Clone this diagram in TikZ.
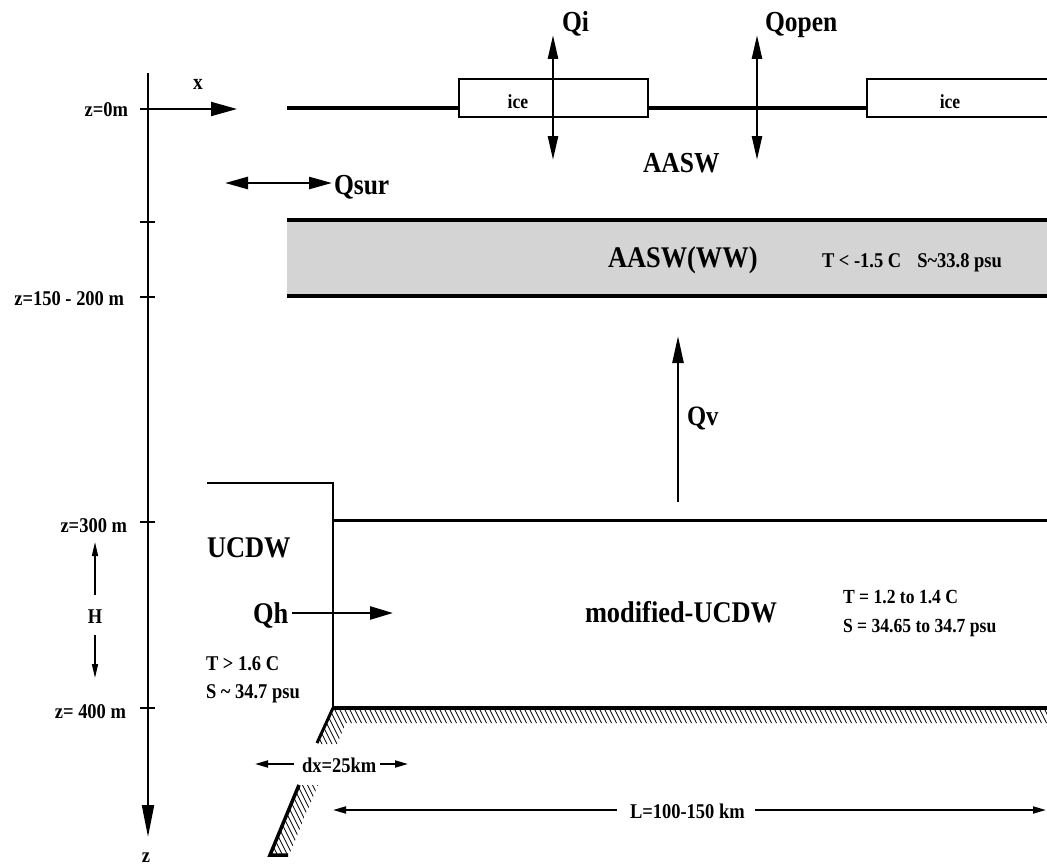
\documentclass[tikz,border=0pt]{standalone}
\usepackage{fontspec}
\setmainfont{Liberation Serif}[FakeStretch=0.88]
\usetikzlibrary{arrows.meta}
\tikzset{
  every node/.style={inner sep=0pt, outer sep=0pt},
  bigtxt/.style={font=\bfseries\fontsize{30}{32}\selectfont},
  qtxt/.style={font=\bfseries\fontsize{29}{31}\selectfont},
  midtxt/.style={font=\bfseries\fontsize{21}{23}\selectfont},
  smtxt/.style={font=\bfseries\fontsize{20}{22}\selectfont},
  axisline/.style={line width=2pt},
  tickline/.style={line width=2pt},
  surf/.style={line width=4.5pt},
  icebox/.style={draw, line width=1.5pt, fill=white},
  bandline/.style={line width=3.5pt},
  wall/.style={line width=2.5pt},
  floor/.style={line width=4pt},
  hatchline/.style={line width=0.7pt},
  bigarrow/.style={line width=2.5pt, -{Triangle[length=24pt,width=11pt]}},
  dblarrow/.style={line width=2.5pt, {Triangle[length=24pt,width=10pt]}-{Triangle[length=24pt,width=10pt]}},
  smallarrow/.style={line width=1.8pt, -{Triangle[length=13pt,width=7pt]}},
}
\begin{document}
\begin{tikzpicture}[x=1pt,y=-1pt]
\useasboundingbox (0,0) rectangle (1047,867);
\clip (0,0) rectangle (1047,867);

% ---------- gray band (AASW(WW))
\fill[black!17] (287,220) rectangle (1050,296);
\draw[bandline] (287,220) -- (1050,220);
\draw[bandline] (287,296) -- (1050,296);

% ---------- z axis
\coordinate (ztop) at (148,73);
\coordinate (zbot) at (148,837);
\draw[axisline, -{Triangle[length=32pt,width=12pt]}] (ztop) -- (zbot);
\foreach \yy in {109,222,297,522,708}
  \draw[tickline] (140,\yy) -- (155,\yy);

\node[midtxt, anchor=base east] (lz0) at (128,117) {z=0m};
\node[midtxt, anchor=base east] (lz150) at (124,305) {z=150 - 200 m};
\node[midtxt, anchor=base east] (lz300) at (127,532) {z=300 m};
\node[midtxt, anchor=base east] (lz400) at (126,718) {z= 400 m};
\node[midtxt, anchor=base] (lzz) at (146,862) {z};

% x arrow
\coordinate (xo) at (148,109);
\coordinate (xe) at (237,109);
\draw[line width=2pt, -{Triangle[length=26pt,width=14pt]}] (xo) -- (xe);
\node[font=\bfseries\fontsize{22}{24}\selectfont, anchor=base] (lx) at (198,89) {x};

% H arrows
\node[midtxt] (lH) at (95,617) {H};
\coordinate (Hup) at (95,542);
\coordinate (Hdn) at (95,678);
\draw[line width=1.5pt, -{Triangle[length=14pt,width=6pt]}] (95,595) -- (Hup);
\draw[line width=1.5pt, -{Triangle[length=14pt,width=6pt]}] (95,635) -- (Hdn);

% ---------- surface with ice
\draw[surf] (287,108) -- (459,108);
\draw[surf] (648,108) -- (867,108);
\draw[icebox] (459,79) rectangle (648,117);
\draw[icebox] (867,79) rectangle (1060,117);
\node[smtxt, anchor=base] (ice1) at (518,108) {ice};
\node[smtxt, anchor=base] (ice2) at (950,108) {ice};

% Qi and Qopen
\coordinate (qi1) at (553,35);
\coordinate (qi2) at (553,160);
\draw[dblarrow] (qi1) -- (qi2);
\node[qtxt, anchor=base west] (lqi) at (562,32) {Qi};
\coordinate (qo1) at (757,35);
\coordinate (qo2) at (757,160);
\draw[dblarrow] (qo1) -- (qo2);
\node[qtxt, anchor=base west] (lqo) at (765,32) {Qopen};
\node[qtxt, anchor=base west] (laasw) at (643,172) {AASW};

% Qsur
\coordinate (qs1) at (225,183);
\coordinate (qs2) at (332,183);
\draw[line width=2.5pt, {Triangle[length=23pt,width=12pt]}-{Triangle[length=23pt,width=12pt]}] (qs1) -- (qs2);
\node[qtxt, anchor=base west] (lqs) at (334,194) {Qsur};

% band labels
\node[bigtxt, anchor=base west] (lww) at (608,267) {AASW(WW)};
\node[font=\bfseries\fontsize{21}{23}\selectfont, anchor=base west] (lwwts) at (822,267) {T {\textless} -1.5 C\hspace{16pt}S\char`~33.8 psu};

% Qv
\coordinate (qv1) at (678,502);
\coordinate (qv2) at (678,336);
\draw[line width=2.5pt, -{Triangle[length=27pt,width=11pt]}] (qv1) -- (qv2);
\node[font=\bfseries\fontsize{28}{30}\selectfont, anchor=base west] (lqv) at (687,425) {Qv};

% ---------- UCDW boundary
\draw[wall] (207,483) -- (333,483) -- (333,708);
\draw[line width=3pt] (333,520) -- (1050,520);

% bottom with hatching
\begin{scope}
  \clip (333,709) -- (1050,709) -- (1050,723) -- (346,723) -- (337,744) -- (317,744) -- cycle;
  \foreach \i in {230,235,...,1060}
    \draw[hatchline] (\i,700) -- (\i+30,760);
\end{scope}
\begin{scope}
  \clip (299,785) -- (318,785) -- (289,855) -- (270,855) -- cycle;
  \foreach \i in {200,205,...,340}
    \draw[hatchline] (\i,770) -- (\i+45,860);
\end{scope}
\draw[floor] (333,708) -- (1050,708);
\draw[line width=3pt] (333,708) -- (317,743);
\draw[line width=3.5pt] (299,785) -- (270,855) -- (288,855);

% UCDW labels
\node[bigtxt, anchor=base west] (lucdw) at (207,557) {UCDW};
\node[bigtxt, anchor=base west] (lqh) at (253,623) {Qh};
\coordinate (qhe) at (393,613);
\draw[line width=2.5pt, -{Triangle[length=23pt,width=13pt]}] (lqh.east |- qhe) ++(4,0) -- (qhe);
\node[midtxt, anchor=base west] (lt16) at (206,670) {T {\textgreater} 1.6 C};
\node[midtxt, anchor=base west] (ls347) at (206,698) {S \char`~\ 34.7 psu};

\node[bigtxt, anchor=base west] (lmod) at (585,622) {modified-UCDW};
\node[smtxt, anchor=base west] (lt12) at (843,603) {T = 1.2 to 1.4 C};
\node[smtxt, anchor=base west] (ls3465) at (843,632) {S = 34.65 to 34.7 psu};

% dx
\node[midtxt, anchor=base west] (ldx) at (302,772) {dx=25km};
\coordinate (dxl) at (255,764);
\coordinate (dxr) at (408,764);
\draw[smallarrow] ([xshift=-8pt]ldx.west |- dxl) -- (dxl);
\draw[smallarrow] ([xshift=4pt]ldx.east |- dxr) -- (dxr);

% L
\node[midtxt, anchor=base west] (lL) at (630,818) {L=100-150 km};
\coordinate (Ll) at (333,810);
\coordinate (Lr) at (1046,810);
\draw[smallarrow] ([xshift=-13pt]lL.west |- Ll) -- (Ll);
\draw[smallarrow] ([xshift=10pt]lL.east |- Lr) -- (Lr);
\end{tikzpicture}
\end{document}
